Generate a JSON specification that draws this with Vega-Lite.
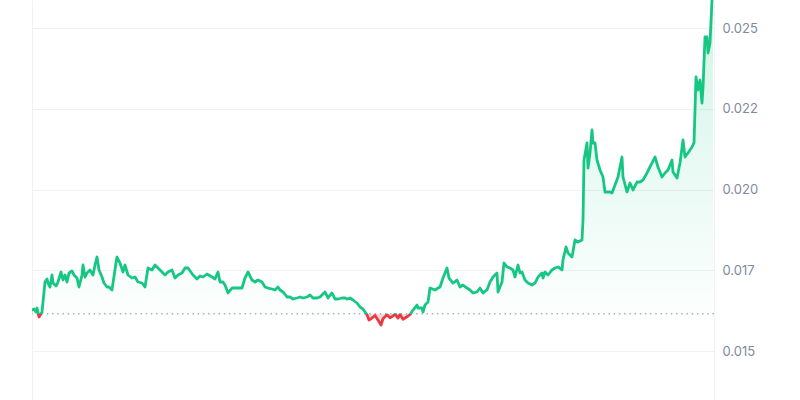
{
  "$schema": "https://vega.github.io/schema/vega-lite/v6.json",
  "width": 682,
  "height": 400,
  "autosize": {"type": "none"},
  "padding": {"left": 32, "right": 86, "top": 0, "bottom": 0},
  "background": "#ffffff",
  "config": {"view": {"stroke": null}, "font": "Inter"},
  "data": {"values": [
    {"t":0,"p":0.016269},{"t":2,"p":0.0163},{"t":4,"p":0.016207},{"t":5,"p":0.016331},{"t":7,"p":0.016053},
    {"t":10,"p":0.016207},{"t":13,"p":0.017136},{"t":15,"p":0.017229},{"t":16,"p":0.017105},{"t":18,"p":0.016981},
    {"t":20,"p":0.017353},{"t":21,"p":0.017105},{"t":24,"p":0.017012},{"t":26,"p":0.017136},{"t":29,"p":0.017446},
    {"t":31,"p":0.017198},{"t":33,"p":0.017353},{"t":35,"p":0.017136},{"t":37,"p":0.017415},{"t":40,"p":0.017477},
    {"t":42,"p":0.017353},{"t":45,"p":0.01726},{"t":47,"p":0.016981},{"t":50,"p":0.017353},{"t":51,"p":0.017663},
    {"t":53,"p":0.017291},{"t":55,"p":0.017415},{"t":58,"p":0.017508},{"t":61,"p":0.017353},{"t":63,"p":0.017663},
    {"t":65,"p":0.01791},{"t":67,"p":0.017508},{"t":70,"p":0.017291},{"t":72,"p":0.017105},{"t":75,"p":0.016981},
    {"t":77,"p":0.016981},{"t":80,"p":0.016889},{"t":81,"p":0.017105},{"t":84,"p":0.017724},{"t":85,"p":0.01791},
    {"t":88,"p":0.017724},
    {"t":91,"p":0.017446},{"t":93,"p":0.017663},{"t":96,"p":0.017353},{"t":100,"p":0.01726},{"t":103,"p":0.017291},
    {"t":106,"p":0.017136},{"t":110,"p":0.017105},{"t":113,"p":0.016981},{"t":116,"p":0.01757},{"t":120,"p":0.017508},
    {"t":123,"p":0.017663},{"t":126,"p":0.01757},{"t":130,"p":0.017446},{"t":133,"p":0.017353},{"t":136,"p":0.017446},
    {"t":140,"p":0.017508},{"t":143,"p":0.01726},{"t":146,"p":0.017353},{"t":150,"p":0.017415},{"t":153,"p":0.01757},
    {"t":156,"p":0.01757},{"t":161,"p":0.017353},{"t":165,"p":0.017229},{"t":168,"p":0.017322},{"t":171,"p":0.017291},
    {"t":175,"p":0.017384},{"t":180,"p":0.017291},{"t":183,"p":0.017229},{"t":186,"p":0.017446},{"t":188,"p":0.017136},
    {"t":191,"p":0.017136},{"t":193,"p":0.017043},{"t":196,"p":0.016796},{"t":200,"p":0.01695},{"t":203,"p":0.01695},
    {"t":206,"p":0.01695},{"t":210,"p":0.01695},{"t":213,"p":0.01726},{"t":216,"p":0.017446},{"t":220,"p":0.017198},
    {"t":223,"p":0.017136},{"t":226,"p":0.017198},{"t":230,"p":0.017136},{"t":233,"p":0.016981},{"t":236,"p":0.01695},
    {"t":240,"p":0.01692},{"t":243,"p":0.016889},{"t":246,"p":0.016981},{"t":248,"p":0.016889},{"t":251,"p":0.016827},
    {"t":255,"p":0.016672},{"t":258,"p":0.016672},{"t":261,"p":0.01661},{"t":265,"p":0.016641},{"t":268,"p":0.016672},
    {"t":271,"p":0.016641},{"t":275,"p":0.016672},{"t":278,"p":0.016734},{"t":281,"p":0.016641},{"t":285,"p":0.016641},
    {"t":288,"p":0.016672},{"t":293,"p":0.016827},{"t":296,"p":0.016641},{"t":300,"p":0.016796},{"t":303,"p":0.01661},
    {"t":306,"p":0.01661},{"t":310,"p":0.016641},{"t":313,"p":0.016641},{"t":315,"p":0.01661},{"t":318,"p":0.016641},
    {"t":321,"p":0.016579},{"t":325,"p":0.016486},{"t":328,"p":0.016362},{"t":331,"p":0.016300},{"t":335,"p":0.01612},
    {"t":337,"p":0.01596},{"t":340,"p":0.01602},{"t":343,"p":0.01610},{"t":346,"p":0.01596},{"t":349,"p":0.015805},
    {"t":351,"p":0.01600},{"t":355,"p":0.01612},{"t":358,"p":0.01603},{"t":361,"p":0.01608},{"t":363,"p":0.01614},
    {"t":366,"p":0.01602},{"t":368,"p":0.01613},{"t":371,"p":0.01598},{"t":375,"p":0.01606},{"t":378,"p":0.01613},
    {"t":381,"p":0.016269},{"t":385,"p":0.016424},{"t":386,"p":0.016331},{"t":390,"p":0.016331},{"t":391,"p":0.016207},
    {"t":393,"p":0.016424},{"t":396,"p":0.016517},{"t":398,"p":0.01695},{"t":403,"p":0.016889},{"t":406,"p":0.01695},
    {"t":408,"p":0.016981},{"t":411,"p":0.01726},{"t":415,"p":0.01757},{"t":417,"p":0.01726},{"t":421,"p":0.017105},
    {"t":425,"p":0.017198},{"t":428,"p":0.016981},{"t":431,"p":0.017043},{"t":435,"p":0.01695},{"t":438,"p":0.016889},
    {"t":441,"p":0.016796},{"t":445,"p":0.016827},{"t":448,"p":0.01695},{"t":451,"p":0.016796},{"t":455,"p":0.016889},
    {"t":458,"p":0.017136},{"t":461,"p":0.017291},{"t":465,"p":0.017415},{"t":466,"p":0.016827},{"t":470,"p":0.017136},
    {"t":472,"p":0.017724},{"t":475,"p":0.017601},{"t":478,"p":0.01757},{"t":481,"p":0.017508},{"t":483,"p":0.017291},
    {"t":486,"p":0.017663},{"t":488,"p":0.017415},{"t":490,"p":0.017446},{"t":493,"p":0.017198},{"t":496,"p":0.017105},
    {"t":500,"p":0.017043},{"t":503,"p":0.017105},{"t":506,"p":0.017291},{"t":510,"p":0.017415},{"t":511,"p":0.01726},
    {"t":513,"p":0.017446},{"t":516,"p":0.017353},{"t":520,"p":0.017508},{"t":523,"p":0.01757},{"t":526,"p":0.017601},
    {"t":530,"p":0.017508},{"t":531,"p":0.017817},{"t":534,"p":0.01822},{"t":536,"p":0.018034},{"t":540,"p":0.01791},
    {"t":543,"p":0.018437},{"t":546,"p":0.018375},{"t":550,"p":0.018437},{"t":551,"p":0.019056},{"t":552,"p":0.020913},
    {"t":555,"p":0.02144},{"t":556,"p":0.020666},{"t":558,"p":0.02113},{"t":560,"p":0.021842},{"t":561,"p":0.02144},
    {"t":563,"p":0.02144},{"t":565,"p":0.020913},{"t":568,"p":0.020604},{"t":571,"p":0.020387},{"t":573,"p":0.019923},
    {"t":576,"p":0.019923},{"t":578,"p":0.019923},{"t":580,"p":0.019892},{"t":583,"p":0.020139},{"t":586,"p":0.020387},
    {"t":590,"p":0.021006},{"t":591,"p":0.020387},{"t":595,"p":0.019923},{"t":598,"p":0.020201},{"t":601,"p":0.019985},
    {"t":605,"p":0.020232},{"t":608,"p":0.020232},{"t":611,"p":0.020294},{"t":615,"p":0.020511},{"t":618,"p":0.020697},
    {"t":623,"p":0.021006},{"t":626,"p":0.020697},{"t":630,"p":0.020387},{"t":633,"p":0.020511},{"t":636,"p":0.020604},
    {"t":640,"p":0.020913},{"t":641,"p":0.020542},{"t":645,"p":0.020356},{"t":648,"p":0.02082},{"t":651,"p":0.021533},
    {"t":653,"p":0.021006},{"t":656,"p":0.02113},{"t":660,"p":0.021316},{"t":662,"p":0.02144},{"t":664,"p":0.023483},
    {"t":666,"p":0.023081},{"t":668,"p":0.02339},{"t":670,"p":0.022678},{"t":671,"p":0.023142},{"t":673,"p":0.024721},
    {"t":675,"p":0.024721},{"t":676,"p":0.024226},{"t":678,"p":0.024536},{"t":680,"p":0.025867},{"t":681,"p":0.0262}
  ]},
  "layer": [
    {
      "mark": {
        "type": "area",
        "clip": true,
        "fill": {
          "gradient": "linear", "x1": 0, "y1": 0, "x2": 0, "y2": 1,
          "stops": [
            {"offset": 0, "color": "rgba(22,199,132,0.2)"},
            {"offset": 0.9668, "color": "rgba(22,199,132,0.01)"},
            {"offset": 0.9668, "color": "rgba(234,57,67,0.2)"},
            {"offset": 1, "color": "rgba(234,57,67,0.2)"}
          ]
        }
      },
      "encoding": {
        "x": {"field": "t", "type": "quantitative", "axis": null, "scale": {"domain": [0, 682], "nice": false, "zero": false}},
        "y": {
          "field": "p", "type": "quantitative",
          "scale": {"domain": [0.013483, 0.025867], "nice": false, "zero": false},
          "axis": {"orient": "left", "labels": false, "ticks": false, "grid": false, "title": null, "domain": true, "domainColor": "#eff2f5", "domainWidth": 1}
        },
        "y2": {"datum": 0.01615}
      }
    },
    {
      "data": {"values": [{"open": 0.01615}]},
      "mark": {"type": "rule", "color": "#a6b0c3", "strokeWidth": 1.5, "strokeDash": [1.5, 3.7]},
      "encoding": {"y": {"field": "open", "type": "quantitative", "axis": null}}
    },
    {
      "mark": {
        "type": "line",
        "clip": true,
        "strokeWidth": 2.8,
        "strokeJoin": "round",
        "strokeCap": "round",
        "stroke": {
          "gradient": "linear", "x1": 0, "y1": 0, "x2": 0, "y2": 1,
          "stops": [
            {"offset": 0, "color": "#16c784"},
            {"offset": 0.9668, "color": "#16c784"},
            {"offset": 0.9668, "color": "#ea3943"},
            {"offset": 1, "color": "#ea3943"}
          ]
        }
      },
      "encoding": {
        "x": {"field": "t", "type": "quantitative", "axis": null},
        "y": {
          "field": "p", "type": "quantitative",
          "axis": {
            "orient": "right", "title": null, "ticks": false, "domain": true, "domainColor": "#eff2f5",
            "grid": true, "gridColor": "#eff2f5", "gridWidth": 1,
            "values": [0.015, 0.0175, 0.02, 0.0225, 0.025],
            "labelExpr": "datum.value == 0.0175 ? '0.017' : datum.value == 0.0225 ? '0.022' : format(datum.value, '.3f')",
            "labelFont": "Inter", "labelFontSize": 13, "labelColor": "#808a9d", "labelPadding": 8
          }
        }
      }
    }
  ],
  "resolve": {"axis": {"y": "independent"}}
}
